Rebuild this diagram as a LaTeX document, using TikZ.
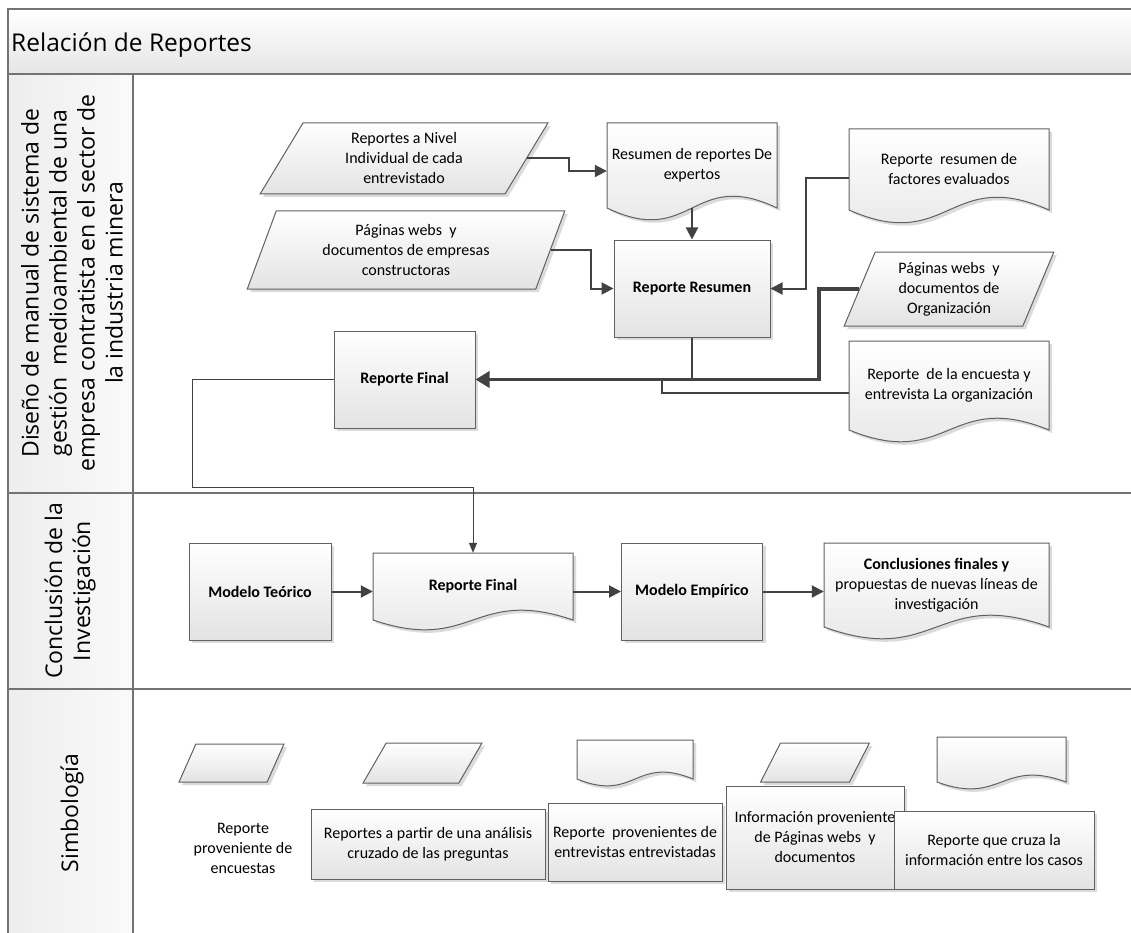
\documentclass[tikz,border=0pt]{standalone}
\usepackage{fontspec}
\setmainfont{Carlito}
\newfontfamily\lanefont{Open Sans}
\usetikzlibrary{arrows.meta,shapes.geometric,shadows}

% document symbol: name, x0, x1, top, side, wave, text
\newcommand{\docnode}[7]{%
  \draw[docline] (#2,#4) -- (#3,#4) -- (#3,#5) .. controls ({(#2+#3)/2},{#5-3.4*#6}) and ({(#2+#3)/2},{#5+3.4*#6}) .. (#2,#5) -- cycle;
  \node[doctext, minimum width={(#3-#2)*1pt}, minimum height={(#5-#4)*1pt}] (#1) at ({(#2+#3)/2},{(#4+#5)/2}) {#7};}

\begin{document}
\begin{tikzpicture}[x=1pt, y=-1pt,
    frameline/.style={draw=black!55, line width=1.3pt},
    shapeline/.style={draw=black!62, line width=1pt, top color=white, bottom color=black!11,
      drop shadow={shadow xshift=3pt, shadow yshift=-3pt, opacity=1, fill=black!14}},
    procbox/.style={shapeline, rectangle, inner sep=0pt, align=center, font=\fontsize{16}{20}\selectfont},
    iobox/.style 2 args={shapeline, trapezium, trapezium left angle=#1, trapezium right angle=#2,
      trapezium stretches=true, inner sep=0pt, align=center, font=\fontsize{16}{20}\selectfont},
    docline/.style={shapeline},
    doctext/.style={rectangle, inner sep=0pt, align=center, font=\fontsize{16}{20}\selectfont},
    plaintext/.style={inner sep=0pt, align=center, font=\fontsize{16}{20}\selectfont},
    lanetext/.style={rotate=90, inner sep=0pt, align=center, font=\lanefont\fontsize{23}{28}\selectfont},
    titletext/.style={inner sep=0pt, font=\lanefont\fontsize{24.5}{28}\selectfont},
    link/.style={draw=black!74, line width=2pt, -{Triangle[length=12pt, width=12pt]}},
    heavylink/.style={draw=black!74, line width=3.5pt, -{Triangle[length=14pt, width=16pt]}},
    thinlink/.style={draw=black!74, line width=1pt, -{Triangle[length=10pt, width=8pt]}},
    tie/.style={draw=black!74, line width=2pt}
  ]
  \useasboundingbox (0,0) rectangle (1131,933);

  % pool and lanes
  \fill[top color=white, bottom color=black!10] (8,9) rectangle (1131,74);
  \fill[left color=black!7, right color=black!2] (8,74) rectangle (133,933);
  \draw[frameline] (1131,9) -- (8,9) -- (8,933);
  \draw[frameline] (8,74) -- (1131,74);
  \draw[frameline] (8,493) -- (1131,493);
  \draw[frameline] (8,689) -- (1131,689);
  \draw[frameline] (133,74) -- (133,933);

  \node[titletext, anchor=base west] (title) at (11,52) {Relación de Reportes};
  \node[lanetext] (lanediseno) at (72,283) {Diseño de manual de sistema de\\gestión\ \ medioambiental de una\\empresa contratista en el sector de\\la industria minera};
  \node[lanetext] (laneconcl) at (70,591) {Conclusión de la\\Investigación};
  \node[lanetext] (lanesimb) at (72,813) {Simbología};

  % lane 1
  \node[iobox={64}{116}, minimum width=288pt, minimum height=71pt] (nivel) at (404,158.5) {Reportes a Nivel\\Individual de cada\\entrevistado};
  \node[iobox={70}{110}, minimum width=318pt, minimum height=78pt] (constr) at (406,250) {Páginas webs\ \ y\\documentos de empresas\\constructoras};
  \docnode{resexp}{607}{777}{123}{208}{12}{Resumen de reportes De\\expertos}
  \node[procbox, minimum width=156pt, minimum height=97pt] (rresumen) at (692,288.5) {\bfseries Reporte Resumen};
  \docnode{factores}{849}{1049}{129}{210}{13}{Reporte\ \ resumen de\\factores evaluados}
  \node[iobox={68.5}{111.5}, minimum width=210pt, minimum height=74pt] (org) at (949,289) {Páginas webs\ \ y\\documentos de\\Organización};
  \docnode{encuesta}{849}{1049}{341}{430}{12}{Reporte\ \ de la encuesta y\\entrevista La organización}
  \node[procbox, minimum width=141pt, minimum height=97pt] (rfinal) at (404.5,379.5) {\bfseries Reporte Final};

  \draw[link] (nivel.east) -- ++(42,0) |- ([yshift=-5.5pt]resexp.west);
  \draw[link] (resexp.south) -- (rresumen.north);
  \draw[link] (constr.east) -- ++(40,0) |- (rresumen.west);
  \draw[link] ([yshift=-8.5pt]factores.west) -- ++(-43,0) |- (rresumen.east);
  \draw[tie] (rresumen.south) -- (rresumen.south |- rfinal.east);
  \draw[tie] ([yshift=-7.5pt]encuesta.west) -| ([xshift=-30pt]rresumen.south |- rfinal.east);
  \draw[heavylink] (org.west) -- ++(-40,0) |- (rfinal.east);

  % lane 2
  \node[procbox, minimum width=142pt, minimum height=97pt] (mteo) at (260,591.5) {\bfseries Modelo Teórico};
  \docnode{rfdoc}{373}{573}{553}{620}{10}{\bfseries Reporte Final}
  \node[procbox, minimum width=141pt, minimum height=97pt] (memp) at (692,591.5) {\bfseries Modelo Empírico};
  \docnode{concl}{824}{1049}{543}{627}{12}{\bfseries Conclusiones finales y\\propuestas de nuevas líneas de\\investigación}

  \draw[thinlink] (rfinal.west) -| ++(-141.5,107.5) -| (rfdoc.north);
  \draw[link] (mteo.east) -- (mteo.east -| rfdoc.west);
  \draw[link] (rfdoc.east |- memp.west) -- (memp.west);
  \draw[link] (memp.east) -- (memp.east -| concl.west);

  % lane 3: symbols
  \node[iobox={72.5}{107.5}, minimum width=105pt, minimum height=38pt] (legenc) at (231.5,763) {\phantom{M}};
  \node[plaintext] (legenctext) at (243,848) {Reporte\\proveniente de\\encuestas};
  \node[iobox={67}{113}, minimum width=119pt, minimum height=40pt] (legcruz) at (422.5,763) {\phantom{M}};
  \node[procbox, minimum width=234pt, minimum height=70pt] (legcruztext) at (428,844) {Reportes a partir de una análisis\\cruzado de las preguntas};
  \docnode{legent}{577}{693}{740}{779}{7}{}
  \node[procbox, minimum width=174pt, minimum height=78pt] (legenttext) at (635,842) {Reporte\ \ provenientes de\\entrevistas entrevistadas};
  \node[iobox={69}{111}, minimum width=109pt, minimum height=39pt] (legweb) at (815,762.5) {\phantom{M}};
  \node[procbox, minimum width=178pt, minimum height=103pt] (legwebtext) at (815,837.5) {Información proveniente\\de Páginas webs\ \ y\\documentos};
  \docnode{legcaso}{937}{1066}{737}{782}{7}{}
  \node[procbox, minimum width=200pt, minimum height=78pt] (legcasotext) at (994,850) {Reporte que cruza la\\información entre los casos};
\end{tikzpicture}
\end{document}
